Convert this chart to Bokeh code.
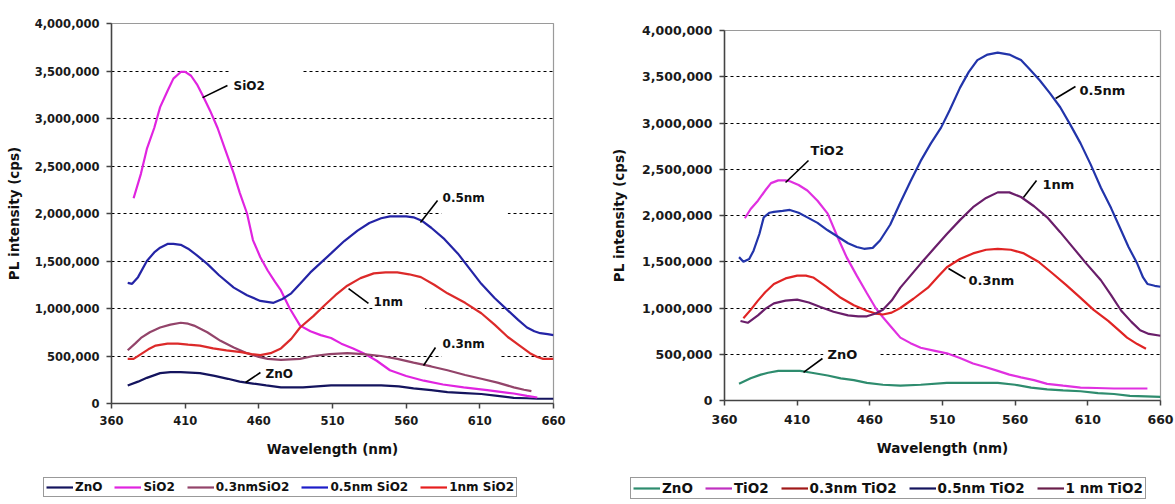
from bokeh.plotting import figure
from bokeh.layouts import row, column
from bokeh.models import (Range1d, FixedTicker, NumeralTickFormatter, Legend,
                          LegendItem, Label, ColumnDataSource)
from bokeh.embed import file_html
from bokeh.resources import INLINE

FONT = "DejaVu Sans"
MIL = 1_000_000

X_TICKS = [360, 410, 460, 510, 560, 610, 660]
Y_TICKS = [0, 500000, 1000000, 1500000, 2000000, 2500000, 3000000, 3500000, 4000000]
GRID_TICKS = Y_TICKS[1:-1]

# ---------------- Left panel: SiO2 coated (values in millions of cps) ----------------
L_ZNO_X = [371, 378, 384, 393, 400, 407, 420, 430, 439, 447, 456, 465, 475, 490, 509, 525, 543, 555,
           565, 577, 588, 600, 611, 622, 633, 642, 649, 655, 660]
L_ZNO_Y = [0.19, 0.23, 0.27, 0.32, 0.33, 0.33, 0.32, 0.29, 0.26, 0.23, 0.21, 0.19, 0.17, 0.17, 0.19,
           0.19, 0.19, 0.18, 0.16, 0.14, 0.12, 0.11, 0.10, 0.08, 0.06, 0.055, 0.05, 0.05, 0.05]

L_SIO2_X = [375, 380, 384, 389, 393, 398, 402, 407, 410, 414, 418, 422, 427, 432, 437, 443, 447, 452,
            456, 461, 466, 471, 475, 481, 488, 495, 502, 509, 516, 524, 531, 540, 549, 560, 572, 585,
            599, 615, 633, 642, 649]
L_SIO2_Y = [2.16, 2.42, 2.68, 2.90, 3.12, 3.29, 3.42, 3.49, 3.49, 3.45, 3.36, 3.24, 3.08, 2.90, 2.68,
            2.42, 2.22, 2.00, 1.72, 1.54, 1.40, 1.28, 1.19, 1.00, 0.82, 0.76, 0.72, 0.69, 0.63, 0.58,
            0.53, 0.45, 0.35, 0.29, 0.24, 0.20, 0.17, 0.14, 0.105, 0.08, 0.063]

L_03_X = [371, 376, 380, 386, 393, 400, 407, 412, 416, 425, 434, 443, 452, 460, 466, 475, 488, 497,
          508, 520, 531, 543, 554, 565, 577, 588, 600, 611, 622, 633, 640, 645]
L_03_Y = [0.56, 0.63, 0.69, 0.75, 0.80, 0.83, 0.85, 0.84, 0.82, 0.75, 0.66, 0.59, 0.53, 0.49, 0.47,
          0.46, 0.47, 0.50, 0.52, 0.53, 0.52, 0.50, 0.47, 0.43, 0.39, 0.35, 0.30, 0.26, 0.22, 0.17,
          0.145, 0.13]

L_05_X = [371, 374, 378, 384, 389, 393, 398, 402, 407, 412, 418, 425, 433, 443, 452, 461, 470, 476,
          482, 488, 495, 502, 509, 518, 527, 535, 543, 549, 554, 560, 565, 571, 577, 586, 595, 603,
          611, 620, 629, 636, 642, 647, 651, 656, 660]
L_05_Y = [1.27, 1.26, 1.33, 1.50, 1.59, 1.64, 1.68, 1.68, 1.67, 1.63, 1.56, 1.47, 1.35, 1.22, 1.14,
          1.08, 1.06, 1.10, 1.16, 1.26, 1.38, 1.48, 1.58, 1.71, 1.82, 1.90, 1.95, 1.97, 1.97, 1.97,
          1.96, 1.92, 1.85, 1.73, 1.58, 1.42, 1.26, 1.11, 0.98, 0.88, 0.80, 0.76, 0.74, 0.73, 0.72]

L_1_X = [371, 375, 380, 385, 390, 398, 405, 412, 420, 429, 438, 448, 455, 461, 468, 475, 482, 488,
         497, 505, 512, 520, 529, 538, 546, 554, 562, 570, 579, 588, 600, 611, 620, 629, 637, 644,
         649, 653, 660]
L_1_Y = [0.47, 0.47, 0.52, 0.57, 0.61, 0.63, 0.63, 0.62, 0.61, 0.58, 0.56, 0.54, 0.52, 0.51, 0.53,
         0.58, 0.68, 0.80, 0.92, 1.04, 1.14, 1.24, 1.32, 1.37, 1.38, 1.38, 1.36, 1.33, 1.25, 1.16,
         1.06, 0.95, 0.83, 0.70, 0.61, 0.53, 0.49, 0.47, 0.47]

L_NAMES = ["ZnO", "SiO2", "0.3nmSiO2", "0.5nm SiO2", "1nm SiO2"]
L_COLORS = ["#14145e", "#e024e0", "#93446a", "#2424a6", "#dc2a2a"]
L_LEGEND_COLORS = ["#14145e", "#e024e0", "#93446a", "#1c1cc8", "#e61e1e"]

# annotation boxes: top-left corner (wavelength, millions) and padding (left, right, top, bottom)
L_ANN_TEXT = ["SiO2", "0.5nm", "1nm", "0.3nm", "ZnO"]
L_ANN_X = [440.8, 584.0, 537.2, 584.0, 463.8]
L_ANN_Y = [3.516, 2.263, 1.168, 0.726, 0.400]
L_ANN_PAD = [(3, 38, 10, 2), (1, 23, 2, 11), (1, 22, 2, 3), (1, 16, 2, 8), (1, 1, 1, 1)]
L_LEAD_X0 = [421.8, 569.7, 520.9, 571.8, 451.0]
L_LEAD_Y0 = [3.22, 1.905, 1.21, 0.40, 0.221]
L_LEAD_X1 = [438.7, 581.3, 534.4, 579.9, 461.1]
L_LEAD_Y1 = [3.347, 2.137, 1.053, 0.589, 0.326]

# ---------------- Right panel: TiO2 coated (values in millions of cps) ----------------
R_ZNO_X = [370, 378, 385, 390, 397, 405, 412, 420, 431, 440, 449, 458, 469, 481, 495, 513, 530, 548,
           560, 571, 582, 593, 605, 617, 628, 639, 650, 660]
R_ZNO_Y = [0.18, 0.24, 0.28, 0.30, 0.32, 0.32, 0.32, 0.30, 0.27, 0.24, 0.22, 0.19, 0.17, 0.16, 0.17,
           0.19, 0.19, 0.19, 0.17, 0.14, 0.12, 0.11, 0.10, 0.08, 0.07, 0.05, 0.045, 0.04]

R_TIO2_X = [374, 378, 383, 388, 392, 397, 402, 405, 411, 417, 424, 431, 438, 444, 451, 458, 464, 469,
            475, 481, 488, 495, 504, 513, 522, 531, 540, 548, 556, 564, 573, 582, 593, 605, 616, 628,
            640, 651]
R_TIO2_Y = [1.97, 2.07, 2.16, 2.27, 2.35, 2.38, 2.38, 2.37, 2.33, 2.27, 2.16, 2.02, 1.76, 1.55, 1.35,
            1.16, 1.00, 0.90, 0.79, 0.68, 0.62, 0.57, 0.54, 0.51, 0.46, 0.40, 0.36, 0.32, 0.28, 0.25,
            0.22, 0.18, 0.16, 0.14, 0.135, 0.13, 0.13, 0.13]

R_03_X = [373, 378, 383, 388, 394, 402, 410, 416, 421, 430, 440, 449, 458, 464, 469, 475, 481, 490,
          500, 507, 513, 522, 531, 540, 548, 557, 566, 576, 586, 595, 605, 614, 624, 632, 637, 644, 650]
R_03_Y = [0.89, 0.98, 1.08, 1.17, 1.26, 1.32, 1.35, 1.35, 1.33, 1.23, 1.11, 1.03, 0.97, 0.94, 0.93,
          0.95, 1.00, 1.10, 1.22, 1.34, 1.44, 1.53, 1.59, 1.63, 1.64, 1.63, 1.59, 1.50, 1.37, 1.25,
          1.11, 0.98, 0.86, 0.75, 0.68, 0.61, 0.56]

R_05_X = [370, 373, 377, 380, 384, 387, 391, 394, 400, 405, 411, 417, 424, 431, 438, 445, 451, 456,
          462, 467, 474, 481, 488, 495, 502, 509, 515, 522, 528, 534, 541, 548, 556, 564, 570, 577,
          584, 591, 598, 605, 612, 619, 626, 632, 638, 644, 648, 651, 656, 660]
R_05_Y = [1.55, 1.50, 1.53, 1.62, 1.80, 1.98, 2.03, 2.04, 2.05, 2.06, 2.03, 1.98, 1.92, 1.84, 1.77,
          1.70, 1.66, 1.64, 1.65, 1.73, 1.90, 2.14, 2.37, 2.59, 2.78, 2.95, 3.14, 3.38, 3.55, 3.68,
          3.74, 3.76, 3.74, 3.68, 3.58, 3.46, 3.32, 3.17, 2.98, 2.78, 2.55, 2.30, 2.08, 1.87, 1.66,
          1.48, 1.33, 1.26, 1.24, 1.23]

R_1_X = [371, 376, 383, 388, 394, 402, 410, 418, 426, 435, 445, 452, 458, 464, 469, 475, 481, 488,
         495, 504, 513, 522, 531, 540, 548, 556, 564, 573, 582, 591, 600, 609, 619, 626, 633, 640,
         646, 652, 660]
R_1_Y = [0.86, 0.84, 0.92, 0.99, 1.05, 1.08, 1.09, 1.06, 1.01, 0.96, 0.92, 0.91, 0.91, 0.94, 0.98,
         1.08, 1.22, 1.35, 1.48, 1.64, 1.80, 1.95, 2.09, 2.19, 2.25, 2.25, 2.20, 2.10, 1.98, 1.82,
         1.65, 1.48, 1.30, 1.14, 0.97, 0.85, 0.76, 0.72, 0.70]

R_NAMES = ["ZnO", "TiO2", "0.3nm TiO2", "0.5nm TiO2", "1 nm TiO2"]
R_COLORS = ["#2e8c6e", "#e030e0", "#e02424", "#2234aa", "#6a1e6a"]
R_LEGEND_COLORS = ["#2e8c6e", "#c030c0", "#a01818", "#14145e", "#6a1e4a"]

R_ANN_TEXT = ["TiO2", "ZnO", "0.5nm", "1nm", "0.3nm"]
R_ANN_X = [418.5, 428.1, 603.6, 578.1, 527.2]
R_ANN_Y = [2.800, 0.595, 3.438, 2.432, 1.384]
R_ANN_PAD = [(1, 1, 1, 1), (4, 23, 2, 1), (1, 1, 1, 1), (1, 1, 1, 1), (1, 1, 1, 1)]
R_LEAD_X0 = [402.0, 414.4, 587.8, 565.7, 514.1]
R_LEAD_Y0 = [2.357, 0.303, 3.265, 2.195, 1.427]
R_LEAD_X1 = [417.8, 427.4, 601.5, 574.7, 525.8]
R_LEAD_Y1 = [2.595, 0.454, 3.395, 2.378, 1.319]


def to_cps(vals):
    return [v * MIL for v in vals]


def build(width, height, borders, tick_size, ann_size, ylab_standoff, xtick_standoff, xlab_standoff,
          series, colors, ann, leads):
    left, right, top, bottom = borders
    p = figure(width=width, height=height, output_backend="svg", toolbar_location=None,
               x_range=Range1d(360, 660), y_range=Range1d(0, 4_000_000),
               min_border_left=left, min_border_right=right,
               min_border_top=top, min_border_bottom=bottom,
               background_fill_color="white", border_fill_color="white")
    p.frame_align = False
    p.outline_line_color = "#9a9a9a"
    p.outline_line_width = 1.2

    p.xaxis.ticker = FixedTicker(ticks=X_TICKS)
    p.yaxis.ticker = FixedTicker(ticks=Y_TICKS)
    p.yaxis.formatter = NumeralTickFormatter(format="0,0")
    p.xgrid.visible = False
    p.ygrid.ticker = FixedTicker(ticks=GRID_TICKS)
    p.ygrid.grid_line_color = "black"
    p.ygrid.grid_line_dash = "3 3"
    p.ygrid.grid_line_width = 1

    for ax in (p.xaxis[0], p.yaxis[0]):
        ax.major_label_text_font = FONT
        ax.major_label_text_font_style = "bold"
        ax.major_label_text_font_size = tick_size
        ax.major_label_text_color = "#1a1a1a"
        ax.axis_label_text_font = FONT
        ax.axis_label_text_font_style = "bold"
        ax.axis_label_text_font_size = "13.5px"
        ax.axis_label_text_color = "#111111"
        ax.axis_line_color = "#444444"
        ax.axis_line_width = 1.5
        ax.major_tick_line_color = "#444444"
        ax.major_tick_line_width = 1.5
        ax.major_tick_in = 0
        ax.major_tick_out = 5
        ax.minor_tick_in = 0
        ax.minor_tick_out = 0
    p.xaxis.axis_label = "Wavelength (nm)"
    p.yaxis.axis_label = "PL intensity (cps)"
    p.yaxis.major_label_standoff = 7
    p.yaxis.axis_label_standoff = ylab_standoff
    p.xaxis.major_label_standoff = xtick_standoff
    p.xaxis.axis_label_standoff = xlab_standoff

    for (xs, ys), c in zip(series, colors):
        p.line(xs, to_cps(ys), line_color=c, line_width=2.2)

    texts, ax_, ay_, pads = ann
    x0, y0, x1, y1 = leads
    src = ColumnDataSource(dict(x0=x0, y0=to_cps(y0), x1=x1, y1=to_cps(y1)))
    p.segment("x0", "y0", "x1", "y1", source=src, line_color="black", line_width=1.6)
    for t, x, y, (pl, pr, pt, pb) in zip(texts, ax_, ay_, pads):
        p.add_layout(Label(x=x, y=y * MIL, text=t, text_align="left", text_baseline="top",
                           text_font=FONT, text_font_style="bold", text_font_size=ann_size,
                           text_color="#111111", background_fill_color="white",
                           background_fill_alpha=1.0,
                           padding=dict(left=pl, right=pr, top=pt, bottom=pb)))
    return p


def legend_strip(width, height, names, series, colors, loc, font_size, spacing):
    # a strip below each chart that only carries its legend; the series lines used as
    # legend proxies fall outside this strip's own (0..1) ranges and are not visible here
    q = figure(width=width, height=height, output_backend="svg", toolbar_location=None,
               x_axis_type=None, y_axis_type=None, min_border=0,
               x_range=Range1d(0, 1), y_range=Range1d(0, 1),
               background_fill_color="white", border_fill_color="white")
    q.frame_align = False
    q.outline_line_color = None
    items = []
    for n, (xs, ys), c in zip(names, series, colors):
        proxy = q.line(xs, to_cps(ys), line_color=c, line_width=2.2)
        items.append(LegendItem(label=n, renderers=[proxy]))
    legend = Legend(items=items, location=loc, orientation="horizontal",
                    glyph_width=27, glyph_height=14, label_height=14, label_width=10,
                    label_standoff=2, spacing=spacing, padding=2, margin=0,
                    border_line_color="#333333", border_line_width=1.2,
                    background_fill_color="white", background_fill_alpha=1.0,
                    label_text_font=FONT, label_text_font_style="bold",
                    label_text_font_size=font_size, label_text_color="#111111")
    q.add_layout(legend, "center")
    return q


L_SERIES = [(L_ZNO_X, L_ZNO_Y), (L_SIO2_X, L_SIO2_Y), (L_03_X, L_03_Y), (L_05_X, L_05_Y), (L_1_X, L_1_Y)]
R_SERIES = [(R_ZNO_X, R_ZNO_Y), (R_TIO2_X, R_TIO2_Y), (R_03_X, R_03_Y), (R_05_X, R_05_Y), (R_1_X, R_1_Y)]

left_plot = build(596, 474, (111, 43, 23, 71), "11.5px", "12px", 10, 7, 13,
                  L_SERIES, L_COLORS,
                  (L_ANN_TEXT, L_ANN_X, L_ANN_Y, L_ANN_PAD),
                  (L_LEAD_X0, L_LEAD_Y0, L_LEAD_X1, L_LEAD_Y1))
left_legend = legend_strip(596, 30, L_NAMES, L_SERIES, L_LEGEND_COLORS, (43, 7), "12px", 12)

right_plot = build(579, 474, (128, 15, 30, 74), "12.5px", "13px", 12, 9, 13,
                   R_SERIES, R_COLORS,
                   (R_ANN_TEXT, R_ANN_X, R_ANN_Y, R_ANN_PAD),
                   (R_LEAD_X0, R_LEAD_Y0, R_LEAD_X1, R_LEAD_Y1))
right_legend = legend_strip(579, 30, R_NAMES, R_SERIES, R_LEGEND_COLORS, (34, 5), "13.5px", 12)

layout = row(column(left_plot, left_legend), column(right_plot, right_legend))
open("out.html", "w").write(file_html(layout, INLINE))
